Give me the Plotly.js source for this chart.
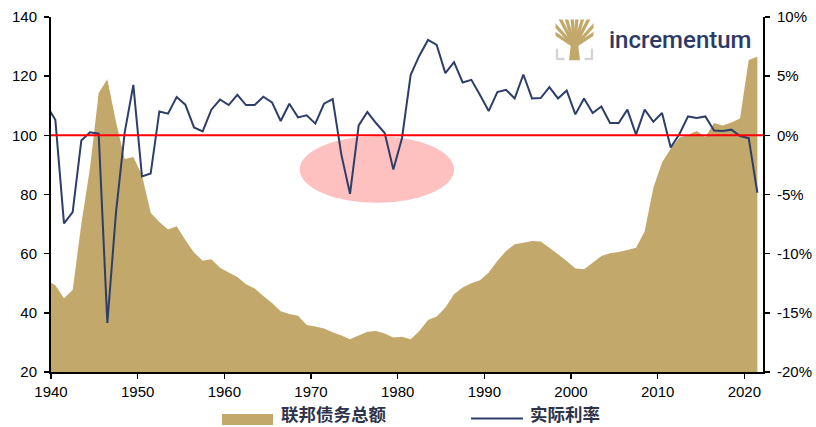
<!DOCTYPE html>
<html>
<head>
<meta charset="utf-8">
<script src="https://cdn.plot.ly/plotly-3.0.1.min.js"></script>
<style>
  html, body { margin: 0; padding: 0; background: #ffffff; }
  #chart { width: 816px; height: 427px; }
</style>
</head>
<body>
<div id="chart"></div>
<script>
// Annual series, 1939–2021
const years = [
  1939, 1940, 1941, 1942, 1943, 1944, 1945, 1946, 1947, 1948, 1949,
  1950, 1951, 1952, 1953, 1954, 1955, 1956, 1957, 1958, 1959,
  1960, 1961, 1962, 1963, 1964, 1965, 1966, 1967, 1968, 1969,
  1970, 1971, 1972, 1973, 1974, 1975, 1976, 1977, 1978, 1979,
  1980, 1981, 1982, 1983, 1984, 1985, 1986, 1987, 1988, 1989,
  1990, 1991, 1992, 1993, 1994, 1995, 1996, 1997, 1998, 1999,
  2000, 2001, 2002, 2003, 2004, 2005, 2006, 2007, 2008, 2009,
  2010, 2011, 2012, 2013, 2014, 2015, 2016, 2017, 2018, 2019,
  2020, 2021
];

// Federal debt (left axis)
const federalDebt = [
  51.0, 49.3, 44.9, 47.7, 70.0, 89.0, 114.3, 119.0, 104.5, 92.0, 92.7,
  86.5, 73.8, 70.7, 68.2, 69.3, 64.6, 60.4, 57.6, 58.1, 55.2,
  53.6, 52.1, 49.7, 48.2, 45.7, 43.3, 40.5, 39.6, 39.0, 35.9,
  35.4, 34.7, 33.4, 32.3, 31.1, 32.3, 33.6, 33.9, 33.0, 31.7,
  31.9, 31.1, 33.9, 37.6, 38.8, 41.8, 46.3, 48.6, 50.0, 51.0,
  53.6, 57.5, 60.9, 63.2, 63.7, 64.3, 64.1, 62.0, 59.8, 57.5,
  55.0, 54.7, 56.9, 59.2, 60.1, 60.6, 61.2, 62.0, 67.6, 82.3,
  90.8, 95.5, 99.2, 100.1, 101.5, 99.4, 104.2, 103.3, 104.3, 105.7,
  125.5, 126.6
];

// Real interest rate in percent (right axis)
const realRate = [
  2.5, 1.32, -7.44, -6.49, -0.43, 0.25, 0.14, -15.86, -6.51, 0.23, 4.27,
  -3.48, -3.23, 2.02, 1.83, 3.23, 2.59, 0.67, 0.34, 2.17, 3.03,
  2.56, 3.43, 2.56, 2.56, 3.26, 2.78, 1.21, 2.67, 1.52, 1.69,
  0.99, 2.67, 3.06, -1.63, -4.94, 0.84, 1.97, 1.04, 0.20, -2.89,
  -0.22, 5.11, 6.73, 8.06, 7.64, 5.26, 6.18, 4.47, 4.69, 3.40,
  2.05, 3.65, 3.85, 3.12, 5.14, 3.12, 3.15, 4.07, 3.12, 3.79,
  1.77, 3.12, 1.89, 2.44, 1.04, 1.04, 2.17, 0.06, 2.17, 1.15,
  1.89, -1.03, 0.10, 1.60, 1.47, 1.60, 0.41, 0.37, 0.48, -0.06,
  -0.24, -4.85
];

// Axis ticks
const xTicks = [1940, 1950, 1960, 1970, 1980, 1990, 2000, 2010, 2020];
const leftTicks = [20, 40, 60, 80, 100, 120, 140];
const rightTicks = [-20, -15, -10, -5, 0, 5, 10];
const rightTickText = ['-20%', '-15%', '-10%', '-5%', '0%', '5%', '10%'];

const seriesNames = ['联邦债务总额', '实际利率'];

// ---------------------------------------------------------------------------
const W = 816, H = 427;
const M = { l: 51, r: 53, t: 17, b: 55 };
const px2x = px => (px - M.l) / (W - M.l - M.r);
const py2y = py => (H - M.b - py) / (H - M.t - M.b);

const GOLD = '#c2a86b';
const NAVY = '#2d3e69';

// annual values sit at mid-year
const xMid = years.map(y => y + 0.5);

const tickFont = { family: '"Liberation Sans", Arial, sans-serif', size: 15, color: '#000000' };

const debtTrace = {
  type: 'scatter',
  x: xMid,
  y: federalDebt,
  mode: 'none',
  fill: 'tozeroy',
  fillcolor: GOLD,
  name: seriesNames[0],
  hoverinfo: 'x+y'
};

const rateTrace = {
  type: 'scatter',
  x: xMid,
  y: realRate,
  yaxis: 'y2',
  mode: 'lines',
  line: { color: NAVY, width: 2 },
  name: seriesNames[1]
};

// tree emblem for the brand mark
const treeSvg =
  "<svg xmlns='http://www.w3.org/2000/svg' width='38' height='41' viewBox='0 0 38 41'>" +
  "<path d='M1.5 29 V39.5 H9 M36.5 29 V39.5 H29' stroke='#d4d4d4' stroke-width='2.4' fill='none'/>" +
  "<g stroke='" + GOLD + "' stroke-width='3.3' fill='none'>" +
  "<path d='M19 27 L-2 13'/><path d='M19 27 L-2 4'/><path d='M19 27 L4 -2'/>" +
  "<path d='M19 27 L10.5 -2'/><path d='M19 27 L16.5 -2'/><path d='M19 27 L21.5 -2'/>" +
  "<path d='M19 27 L27.5 -2'/><path d='M19 27 L34 -2'/><path d='M19 27 L40 4'/><path d='M19 27 L40 13'/>" +
  "</g>" +
  "<path d='M13.5 41 L15.5 24 L22.5 24 L24.5 41 Z' fill='" + GOLD + "'/>" +
  "</svg>";
const treeSrc = 'data:image/svg+xml;charset=utf-8,' + encodeURIComponent(treeSvg);

const legendFont = { family: '"Noto Sans CJK SC", sans-serif', size: 17.5, color: '#2d3349', weight: 'bold' };

const layout = {
  width: W,
  height: H,
  margin: M,
  paper_bgcolor: '#ffffff',
  plot_bgcolor: '#ffffff',
  showlegend: false,
  xaxis: {
    range: [1940, 2022.15],
    tickvals: xTicks,
    ticks: 'outside',
    ticklen: 5,
    tickwidth: 1.5,
    tickcolor: '#000000',
    showline: true,
    linewidth: 2,
    linecolor: '#000000',
    showgrid: false,
    zeroline: false,
    tickfont: tickFont
  },
  yaxis: {
    range: [20, 140],
    tickvals: leftTicks,
    ticks: 'outside',
    ticklen: 5,
    tickwidth: 1.5,
    tickcolor: '#000000',
    showline: true,
    linewidth: 2,
    linecolor: '#000000',
    showgrid: false,
    zeroline: false,
    tickfont: tickFont,
    ticklabelstandoff: 4
  },
  yaxis2: {
    overlaying: 'y',
    side: 'right',
    range: [-20, 10],
    tickvals: rightTicks,
    ticktext: rightTickText,
    ticks: 'outside',
    ticklen: 5,
    tickwidth: 1.5,
    tickcolor: '#000000',
    showline: true,
    linewidth: 2,
    linecolor: '#000000',
    showgrid: false,
    zeroline: false,
    tickfont: tickFont,
    ticklabelstandoff: 4
  },
  shapes: [
    // highlight of the 1970s negative-rate episode
    {
      type: 'circle', xref: 'x', yref: 'y', layer: 'below',
      x0: 1968.7, x1: 1986.5, y0: 77.2, y1: 99.7,
      fillcolor: '#ffc0c0', line: { width: 0 }
    },
    // zero real-rate reference
    {
      type: 'line', xref: 'paper', yref: 'y2', layer: 'above',
      x0: 0, x1: 1, y0: 0, y1: 0,
      line: { color: '#ff0000', width: 2 }
    },
    // legend swatches
    {
      type: 'rect', xref: 'paper', yref: 'paper',
      x0: px2x(222), x1: px2x(273), y0: py2y(425), y1: py2y(414),
      fillcolor: GOLD, line: { width: 0 }
    },
    {
      type: 'line', xref: 'paper', yref: 'paper',
      x0: px2x(471), x1: px2x(523), y0: py2y(418.5), y1: py2y(418.5),
      line: { color: NAVY, width: 2 }
    }
  ],
  annotations: [
    {
      xref: 'paper', yref: 'paper', x: px2x(279), y: py2y(413.5),
      xanchor: 'left', yanchor: 'middle', showarrow: false,
      text: seriesNames[0], font: legendFont
    },
    {
      xref: 'paper', yref: 'paper', x: px2x(527.5), y: py2y(413.5),
      xanchor: 'left', yanchor: 'middle', showarrow: false,
      text: seriesNames[1], font: legendFont
    },
    {
      xref: 'paper', yref: 'paper', x: px2x(607), y: py2y(40),
      xanchor: 'left', yanchor: 'middle', showarrow: false,
      text: 'incrementum',
      font: { family: 'Roboto, sans-serif', size: 24, color: '#2b3a67', weight: 500 }
    }
  ],
  images: [
    {
      source: treeSrc, xref: 'paper', yref: 'paper',
      x: px2x(555.5), y: py2y(19.5), sizex: 38 / 712, sizey: 41 / 355,
      xanchor: 'left', yanchor: 'top', sizing: 'stretch', layer: 'above'
    }
  ]
};

Plotly.newPlot('chart', [debtTrace, rateTrace], layout, { displayModeBar: false, staticPlot: true });
</script>
</body>
</html>
